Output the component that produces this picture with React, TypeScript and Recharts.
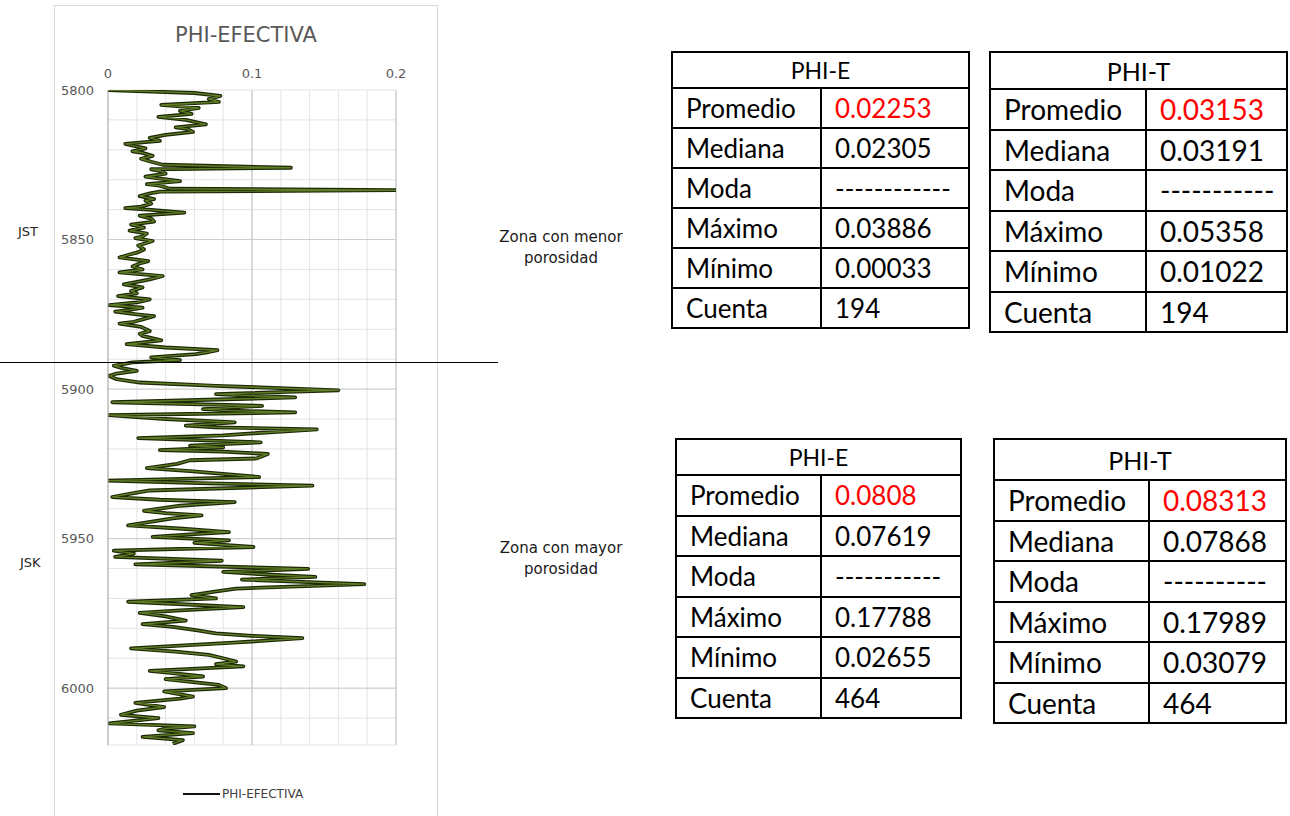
import React from 'react';
import { LineChart, Line, XAxis, YAxis, CartesianGrid, ReferenceLine } from 'recharts';

const DEPTH = [
  5800, 5801, 5802, 5803, 5804, 5805, 5806, 5807, 5808, 5809,
  5810, 5811.5, 5812.5, 5813, 5814, 5815, 5816, 5817, 5818, 5819.5,
  5820.5, 5821, 5822, 5823, 5824, 5825, 5826, 5826.5, 5827, 5828,
  5829, 5829.5, 5830.5, 5831.5, 5832, 5833, 5833.5, 5834, 5834.5, 5835.5,
  5836.5, 5837, 5838, 5839, 5839.5, 5840, 5841, 5842, 5843, 5844,
  5845, 5846, 5847, 5848, 5849, 5849.5, 5850.5, 5852, 5853.3, 5854.4,
  5855, 5856, 5857.2, 5858, 5859, 5860, 5861, 5862.2, 5863.3, 5864,
  5865, 5866, 5867.2, 5868, 5868.9, 5870, 5871, 5871.9, 5872.8, 5873.5,
  5874.1, 5875, 5875.6, 5876.7, 5877.5, 5878.1, 5879.2, 5880.6, 5881.5, 5882.2,
  5883.7, 5885, 5886.1, 5887, 5887.6, 5888.3, 5889.4, 5890.3, 5891.1, 5892.2,
  5893, 5893.9, 5894.8, 5895.6, 5896.7, 5897.8, 5898.9, 5900.4, 5901.7, 5902.8,
  5904.4, 5905.6, 5906.7, 5907.2, 5907.8, 5908.7, 5910, 5911.1, 5912.2, 5912.8,
  5913.5, 5914.8, 5915.5, 5916.4, 5917.8, 5918.9, 5919.5, 5920.4, 5920.9, 5921.7,
  5923.2, 5923.8, 5925, 5926.4, 5927.4, 5928.6, 5929.4, 5930.6, 5931.5, 5932.3,
  5933.9, 5935, 5936.1, 5937, 5937.8, 5939, 5940.7, 5941.5, 5942.2, 5943.2,
  5943.9, 5945.6, 5946.7, 5947.8, 5948.5, 5949.4, 5950.6, 5951.4, 5952.8, 5954,
  5955, 5956.1, 5957.4, 5958.6, 5960.1, 5961.1, 5962, 5962.8, 5963.7, 5965.2,
  5966.7, 5967.8, 5968.9, 5970, 5971.1, 5972.9, 5974, 5974.8, 5976, 5977.4,
  5978.6, 5979.5, 5980.6, 5981.7, 5982.5, 5983.3, 5984.8, 5986.7, 5987.8, 5988.9,
  5990, 5991.1, 5992, 5992.7, 5994.2, 5995, 5996.1, 5997, 5998.9, 6000,
  6001.1, 6002.8, 6003.5, 6004.9, 6006.3, 6007.5, 6008.9, 6010, 6011.8, 6012.8,
  6013.5, 6014.1, 6015, 6016.3, 6017.4, 6018.6,
];

const PHI = [
  0.000, 0.060, 0.078, 0.070, 0.077, 0.037, 0.063, 0.050, 0.058, 0.035,
  0.054, 0.068, 0.047, 0.055, 0.059, 0.040, 0.029, 0.036, 0.012, 0.026,
  0.017, 0.024, 0.031, 0.023, 0.030, 0.038, 0.127, 0.030, 0.036, 0.040,
  0.026, 0.034, 0.050, 0.027, 0.036, 0.043, 0.200, 0.036, 0.030, 0.022,
  0.032, 0.026, 0.030, 0.023, 0.012, 0.028, 0.053, 0.022, 0.030, 0.032,
  0.016, 0.025, 0.015, 0.027, 0.024, 0.019, 0.031, 0.021, 0.025, 0.020,
  0.015, 0.008, 0.028, 0.022, 0.017, 0.024, 0.008, 0.038, 0.029, 0.022,
  0.011, 0.024, 0.016, 0.020, 0.007, 0.029, 0.020, 0.001, 0.024, 0.015,
  0.005, 0.020, 0.032, 0.024, 0.018, 0.008, 0.023, 0.029, 0.022, 0.024,
  0.037, 0.013, 0.040, 0.076, 0.070, 0.061, 0.030, 0.050, 0.017, 0.004,
  0.010, 0.020, 0.006, 0.001, 0.006, 0.022, 0.075, 0.160, 0.075, 0.130,
  0.003, 0.107, 0.066, 0.085, 0.130, 0.000, 0.040, 0.088, 0.054, 0.075,
  0.145, 0.100, 0.080, 0.021, 0.106, 0.057, 0.080, 0.036, 0.080, 0.111,
  0.103, 0.057, 0.048, 0.027, 0.057, 0.086, 0.105, 0.000, 0.070, 0.142,
  0.029, 0.015, 0.003, 0.036, 0.088, 0.050, 0.025, 0.040, 0.065, 0.045,
  0.036, 0.014, 0.052, 0.084, 0.060, 0.031, 0.084, 0.060, 0.101, 0.004,
  0.018, 0.005, 0.079, 0.019, 0.139, 0.080, 0.110, 0.144, 0.093, 0.178,
  0.089, 0.073, 0.058, 0.075, 0.014, 0.094, 0.050, 0.022, 0.040, 0.054,
  0.024, 0.045, 0.061, 0.075, 0.100, 0.135, 0.087, 0.016, 0.047, 0.070,
  0.080, 0.089, 0.075, 0.094, 0.029, 0.045, 0.066, 0.040, 0.077, 0.082,
  0.039, 0.059, 0.050, 0.019, 0.039, 0.020, 0.009, 0.035, 0.001, 0.060,
  0.040, 0.035, 0.059, 0.024, 0.052, 0.045,
];

const X_TICKS = [0, 0.02, 0.04, 0.06, 0.08, 0.1, 0.12, 0.14, 0.16, 0.18, 0.2];
const X_LABELS = [0, 0.1, 0.2];
const Y_TICKS = [
  5800, 5810, 5820, 5830, 5840, 5850, 5860, 5870, 5880, 5890, 5900,
  5910, 5920, 5930, 5940, 5950, 5960, 5970, 5980, 5990, 6000, 6010,
];
const Y_LABELS = [5800, 5850, 5900, 5950, 6000];
const MAJOR_X = [0.1, 0.2];
const MAJOR_Y = [5850, 5900, 5950, 6000];

type StatTable = {
  title: string;
  labels: string[];
  values: string[];
};

const STAT_LABELS = ['Promedio', 'Mediana', 'Moda', 'Máximo', 'Mínimo', 'Cuenta'];

const JST_PHIE: StatTable = {
  title: 'PHI-E',
  labels: STAT_LABELS,
  values: ['0.02253', '0.02305', '------------', '0.03886', '0.00033', '194'],
};
const JST_PHIT: StatTable = {
  title: 'PHI-T',
  labels: STAT_LABELS,
  values: ['0.03153', '0.03191', '-----------', '0.05358', '0.01022', '194'],
};
const JSK_PHIE: StatTable = {
  title: 'PHI-E',
  labels: STAT_LABELS,
  values: ['0.0808', '0.07619', '-----------', '0.17788', '0.02655', '464'],
};
const JSK_PHIT: StatTable = {
  title: 'PHI-T',
  labels: STAT_LABELS,
  values: ['0.08313', '0.07868', '----------', '0.17989', '0.03079', '464'],
};

const logData = DEPTH.map((depth, i) => ({ depth, phi: PHI[i] }));

const AXIS_FONT = '"DejaVu Sans", sans-serif';
const TABLE_FONT = 'Lato, "Noto Sans", sans-serif';

interface StatsBoxProps {
  table: StatTable;
  left: number;
  top: number;
  width: number;
  col1: number;
  headerH: number;
  rowH: number;
  fontSize: number;
  headerSize: number;
}

const StatsBox: React.FC<StatsBoxProps> = ({ table, left, top, width, col1, headerH, rowH, fontSize, headerSize }) => {
  const cell: React.CSSProperties = {
    border: '2px solid #000',
    padding: '0 0 0 13px',
    fontSize,
    color: '#000',
    height: rowH,
    boxSizing: 'border-box',
    whiteSpace: 'nowrap',
    overflow: 'hidden',
  };
  return (
    <table
      style={{
        position: 'absolute',
        left,
        top,
        width,
        borderCollapse: 'collapse',
        tableLayout: 'fixed',
        fontFamily: TABLE_FONT,
      }}
    >
      <colgroup>
        <col style={{ width: col1 }} />
        <col style={{ width: width - col1 }} />
      </colgroup>
      <tbody>
        <tr>
          <td colSpan={2} style={{ ...cell, height: headerH, fontSize: headerSize, textAlign: 'center', padding: 0 }}>
            {table.title}
          </td>
        </tr>
        {table.labels.map((label, i) => (
          <tr key={label}>
            <td style={cell}>{label}</td>
            <td style={{ ...cell, color: i === 0 ? '#ff0000' : '#000' }}>{table.values[i]}</td>
          </tr>
        ))}
      </tbody>
    </table>
  );
};

const App: React.FC = () => {
  return (
    <div style={{ position: 'absolute', left: 0, top: 0, width: 1290, height: 816, overflow: 'hidden', background: '#fff' }}>
      {/* chart frame */}
      <div
        style={{
          position: 'absolute',
          left: 54,
          top: 5,
          width: 384,
          height: 840,
          border: '1px solid #d9d9d9',
          boxSizing: 'border-box',
        }}
      />
      <div
        style={{
          position: 'absolute',
          left: 54,
          top: 21,
          width: 384,
          textAlign: 'center',
          fontFamily: AXIS_FONT,
          fontSize: 21,
          color: '#595959',
          lineHeight: '28px',
        }}
      >
        PHI-EFECTIVA
      </div>
      <div style={{ position: 'absolute', left: 54, top: 5 }}>
        <LineChart
          width={383}
          height={811}
          data={logData}
          layout="vertical"
          margin={{ top: 55, right: 41, bottom: 71, left: 14 }}
        >
          <CartesianGrid stroke="#e4e4e4" strokeWidth={1} />
          <XAxis
            type="number"
            orientation="top"
            domain={[0, 0.2]}
            ticks={X_TICKS}
            interval={0}
            height={30}
            axisLine={false}
            tickLine={false}
            tickSize={0}
            tickMargin={12}
            allowDataOverflow
            tickFormatter={(v: number) => (X_LABELS.includes(v) ? String(v) : '')}
            tick={{ fontFamily: AXIS_FONT, fontSize: 13, fill: '#595959' }}
          />
          <YAxis
            type="number"
            dataKey="depth"
            domain={[5800, 6019]}
            ticks={Y_TICKS}
            interval={0}
            width={40}
            allowDataOverflow
            axisLine={{ stroke: '#a6a6a6' }}
            tickLine={false}
            tickSize={0}
            tickMargin={14}
            tickFormatter={(v: number) => (Y_LABELS.includes(v) ? String(v) : '')}
            tick={{ fontFamily: AXIS_FONT, fontSize: 13, fill: '#595959' }}
          />
          {MAJOR_X.map((v) => (
            <ReferenceLine key={`mx-${v}`} x={v} stroke="#c0c0c0" strokeWidth={1} />
          ))}
          {MAJOR_Y.map((v) => (
            <ReferenceLine key={`my-${v}`} y={v} stroke="#cdcdcd" strokeWidth={1} />
          ))}
          <Line
            dataKey="phi"
            stroke="#1c2806"
            strokeWidth={3.8}
            dot={false}
            isAnimationActive={false}
            strokeLinejoin="round"
          />
          <Line
            dataKey="phi"
            stroke="#5f7d27"
            strokeWidth={1.4}
            dot={false}
            isAnimationActive={false}
            strokeLinejoin="round"
          />
        </LineChart>
      </div>

      {/* legend */}
      <div style={{ position: 'absolute', left: 183, top: 793, width: 37, height: 2, background: '#111' }} />
      <div
        style={{
          position: 'absolute',
          left: 222,
          top: 786,
          fontFamily: AXIS_FONT,
          fontSize: 12,
          color: '#404040',
          lineHeight: '16px',
        }}
      >
        PHI-EFECTIVA
      </div>

      {/* formation boundary */}
      <div style={{ position: 'absolute', left: 0, top: 362, width: 498, height: 1, background: '#000' }} />

      <div style={{ position: 'absolute', left: 18, top: 224, fontFamily: AXIS_FONT, fontSize: 13, color: '#262626', lineHeight: '16px' }}>
        JST
      </div>
      <div style={{ position: 'absolute', left: 20, top: 555, fontFamily: AXIS_FONT, fontSize: 13, color: '#262626', lineHeight: '16px' }}>
        JSK
      </div>

      <div
        style={{
          position: 'absolute',
          left: 481,
          top: 227,
          width: 160,
          textAlign: 'center',
          fontFamily: AXIS_FONT,
          fontSize: 15,
          lineHeight: '21px',
          color: '#1a1a1a',
        }}
      >
        Zona con menor
        <br />
        porosidad
      </div>
      <div
        style={{
          position: 'absolute',
          left: 481,
          top: 538,
          width: 160,
          textAlign: 'center',
          fontFamily: AXIS_FONT,
          fontSize: 15,
          lineHeight: '21px',
          color: '#1a1a1a',
        }}
      >
        Zona con mayor
        <br />
        porosidad
      </div>

      <StatsBox table={JST_PHIE} left={671} top={51} width={297} col1={149} headerH={36} rowH={40} fontSize={26} headerSize={23} />
      <StatsBox table={JST_PHIT} left={989} top={51} width={297} col1={156} headerH={37} rowH={40.5} fontSize={28} headerSize={25} />
      <StatsBox table={JSK_PHIE} left={675} top={438} width={285} col1={145} headerH={36} rowH={40.5} fontSize={26} headerSize={23} />
      <StatsBox table={JSK_PHIT} left={993} top={438} width={292} col1={155} headerH={41} rowH={40.5} fontSize={28} headerSize={25} />
    </div>
  );
};

export default App;
